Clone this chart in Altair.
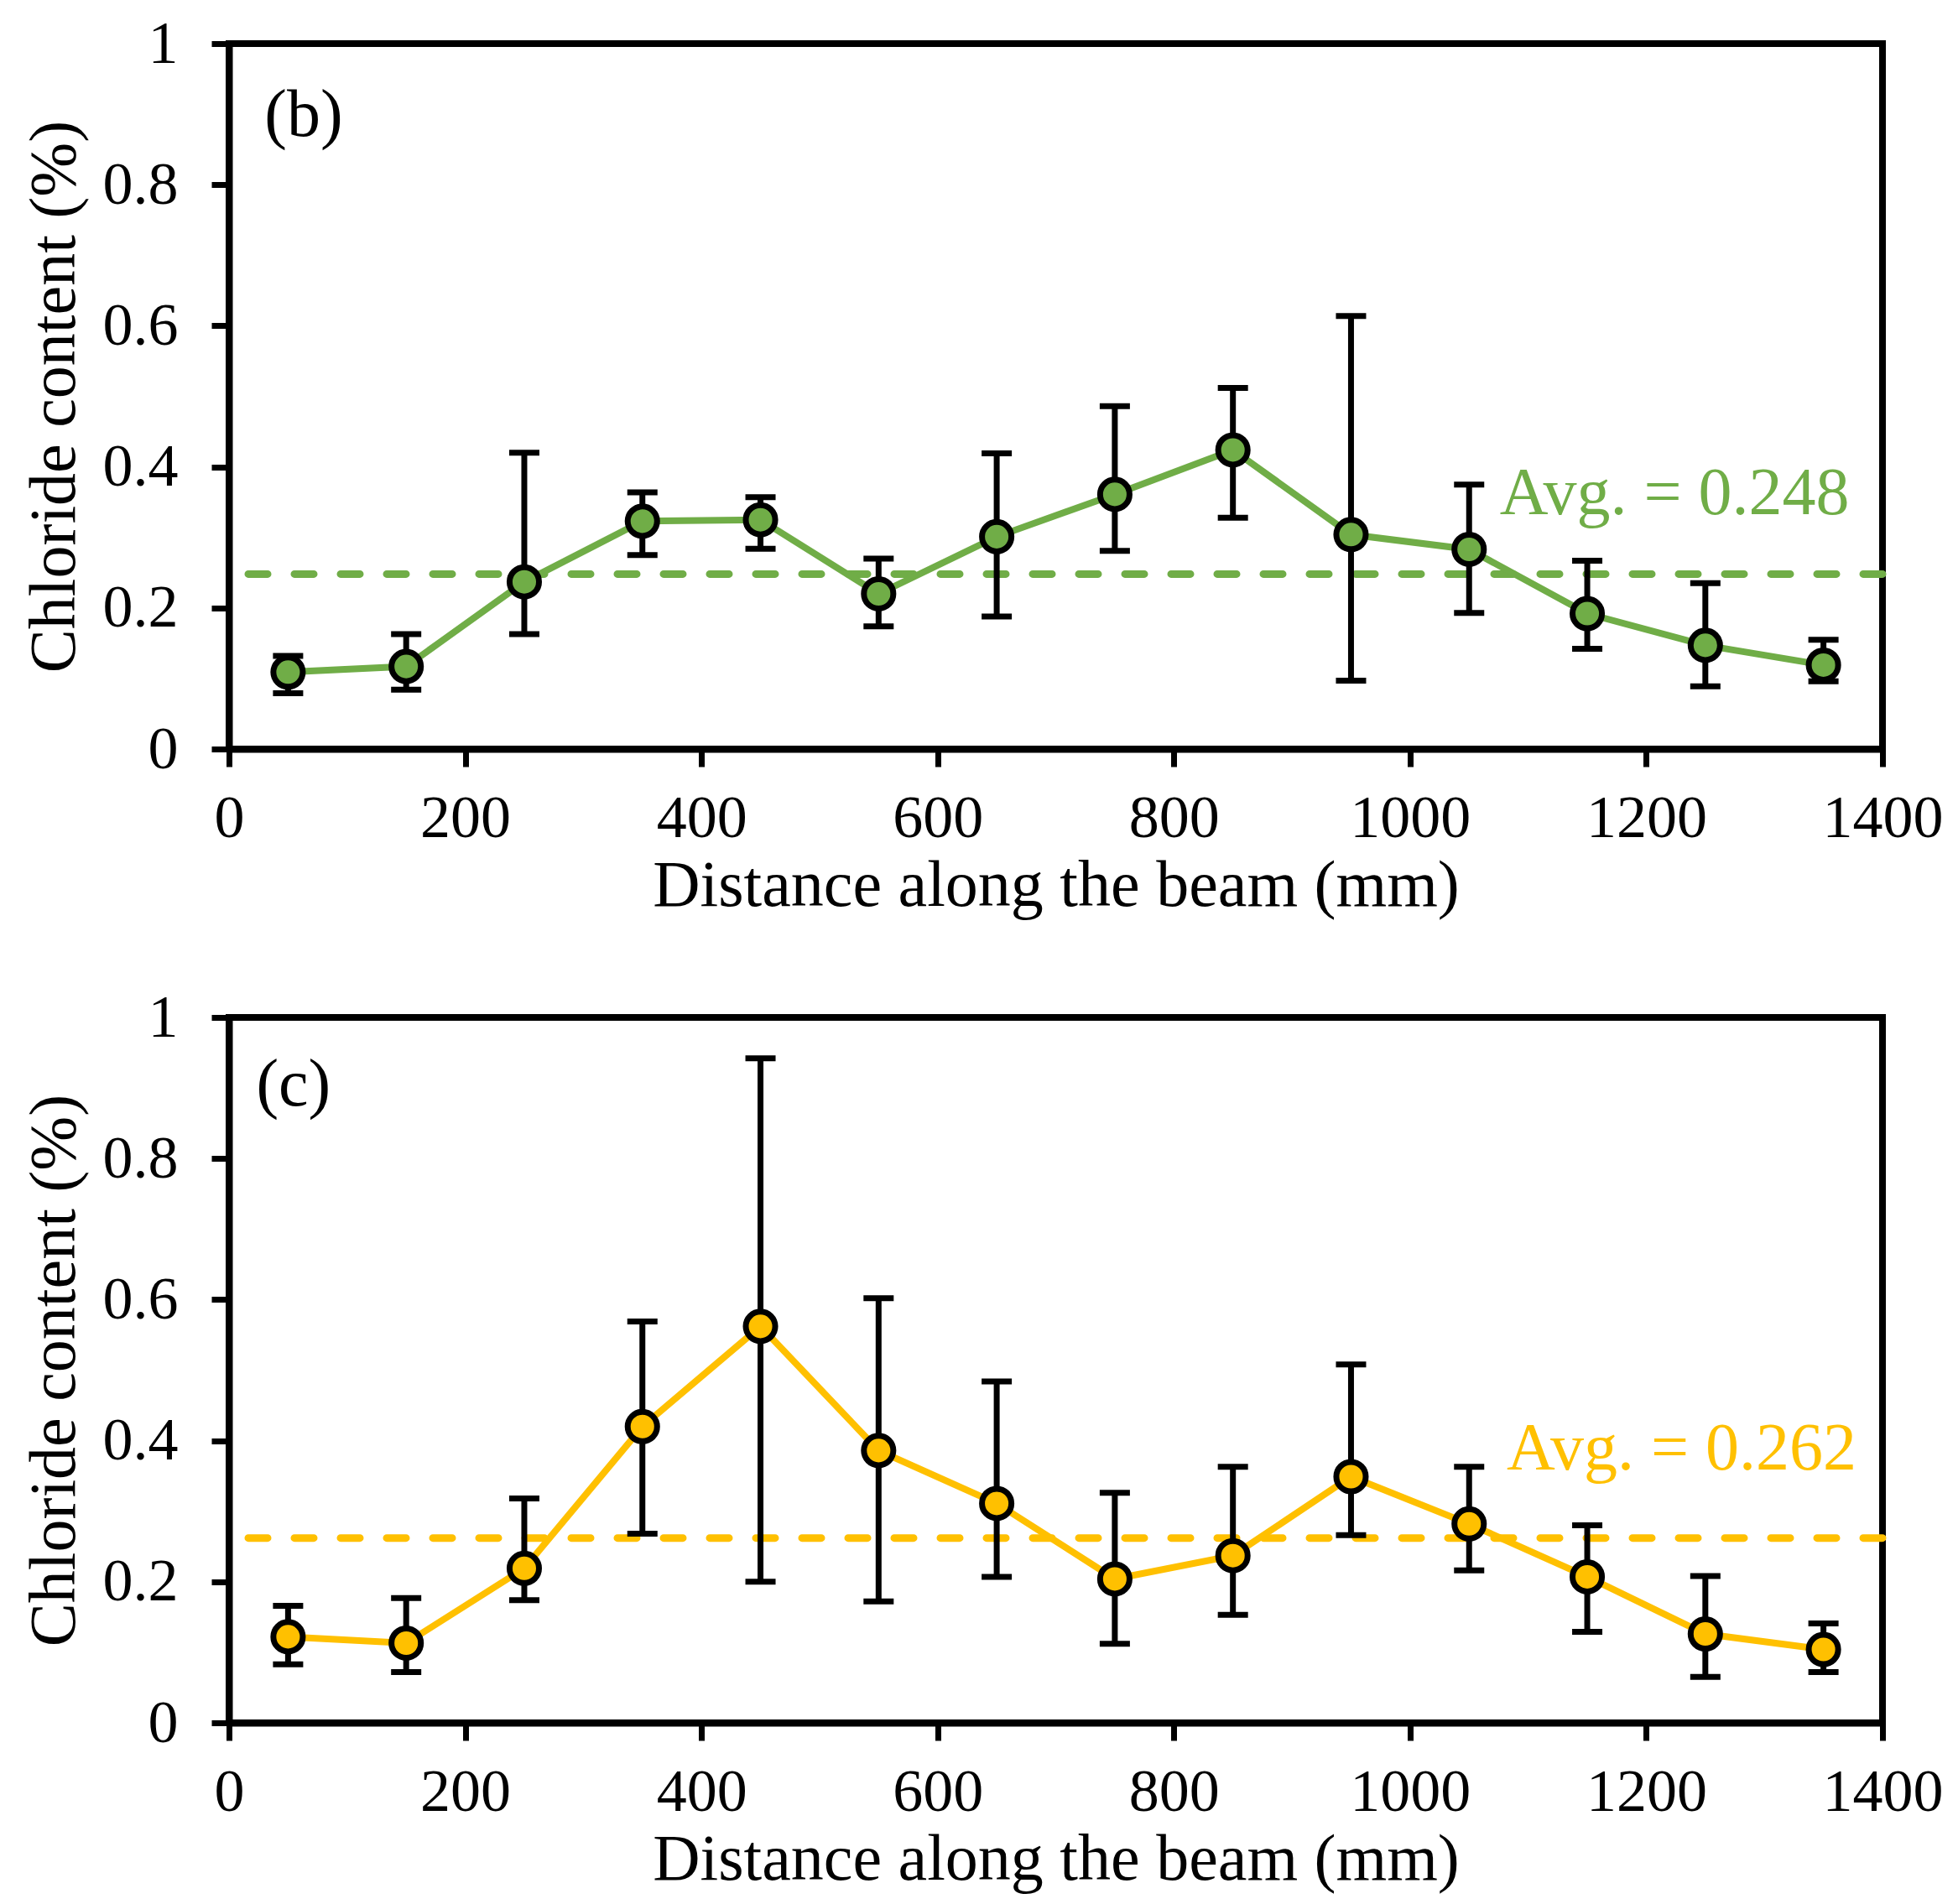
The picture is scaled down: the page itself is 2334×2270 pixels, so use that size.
import altair as alt
import pandas as pd

# ---------------- data ----------------
x_mm = [50, 150, 250, 350, 450, 550, 650, 750, 850, 950, 1050, 1150, 1250, 1350]

b_mean = [0.109, 0.117, 0.237, 0.323, 0.325, 0.220, 0.301, 0.361, 0.424, 0.304, 0.283, 0.192, 0.147, 0.119]
b_hi = [0.132, 0.163, 0.420, 0.364, 0.357, 0.270, 0.419, 0.486, 0.512, 0.614, 0.375, 0.267, 0.235, 0.155]
b_lo = [0.079, 0.084, 0.163, 0.275, 0.284, 0.174, 0.188, 0.281, 0.328, 0.097, 0.193, 0.142, 0.089, 0.096]
b_avg = 0.248

c_mean = [0.122, 0.113, 0.219, 0.420, 0.562, 0.386, 0.311, 0.204, 0.237, 0.349, 0.282, 0.207, 0.126, 0.104]
c_hi = [0.166, 0.177, 0.318, 0.569, 0.942, 0.602, 0.484, 0.326, 0.363, 0.508, 0.363, 0.280, 0.208, 0.141]
c_lo = [0.083, 0.072, 0.174, 0.268, 0.200, 0.172, 0.207, 0.112, 0.153, 0.266, 0.216, 0.129, 0.065, 0.072]
c_avg = 0.262

x_ticks = [0, 200, 400, 600, 800, 1000, 1200, 1400]
y_ticks = [0, 0.2, 0.4, 0.6, 0.8, 1]

GREEN = "#70AD47"
GOLD = "#FFC000"
FONT = "Liberation Serif"

X_TITLE = "Distance along the beam (mm)"
Y_TITLE = "Chloride content (%)"


def panel(mean, lo, hi, avg, color, tag, tag_pos, avg_pos):
    df = pd.DataFrame({"x": x_mm, "m": mean, "lo": lo, "hi": hi})
    xs = alt.Scale(domain=[0, 1400], nice=False, zero=False)
    ys = alt.Scale(domain=[0, 1], nice=False)
    xax = alt.Axis(values=x_ticks, format="d", title=X_TITLE, labelFlush=False)
    yax = alt.Axis(values=y_ticks, format="~g", title=Y_TITLE, labelFlush=False)

    def X(f):
        return alt.X(f, type="quantitative", scale=xs, axis=xax, title=X_TITLE)

    def Y(f):
        return alt.Y(f, type="quantitative", scale=ys, axis=yax, title=Y_TITLE)

    avg_df = pd.DataFrame({"v": [avg]})
    avg_rule = alt.Chart(avg_df).mark_rule(
        color=color, strokeWidth=9, strokeDash=[23, 32], strokeCap="round"
    ).encode(y=Y("v"))

    line = alt.Chart(df).mark_line(color=color, strokeWidth=8).encode(x=X("x"), y=Y("m"))

    err = alt.Chart(df).mark_rule(color="black", strokeWidth=7).encode(
        x=X("x"), y=Y("lo"), y2="hi"
    )
    cap_hi = alt.Chart(df).mark_tick(
        orient="horizontal", color="black", size=36, thickness=7, opacity=1
    ).encode(x=X("x"), y=Y("hi"))
    cap_lo = alt.Chart(df).mark_tick(
        orient="horizontal", color="black", size=36, thickness=7, opacity=1
    ).encode(x=X("x"), y=Y("lo"))

    pts = alt.Chart(df).mark_circle(
        size=1230, color=color, stroke="black", strokeWidth=7, opacity=1
    ).encode(x=X("x"), y=Y("m"))

    tag_df = pd.DataFrame({"x": [tag_pos[0]], "y": [tag_pos[1]], "t": [tag]})
    tag_txt = alt.Chart(tag_df).mark_text(
        align="left", baseline="alphabetic", font=FONT, fontSize=80, color="black"
    ).encode(x=X("x"), y=Y("y"), text="t:N")

    avg_df2 = pd.DataFrame({"x": [avg_pos[0]], "y": [avg_pos[1]], "t": ["Avg. = %.3f" % avg]})
    avg_txt = alt.Chart(avg_df2).mark_text(
        align="right", baseline="alphabetic", font=FONT, fontSize=80, color=color
    ).encode(x=X("x"), y=Y("y"), text="t:N")

    return alt.layer(avg_rule, line, err, cap_hi, cap_lo, pts, tag_txt, avg_txt).properties(
        width=1971, height=841
    )


top = panel(b_mean, b_lo, b_hi, b_avg, GREEN, "(b)", (30, 0.869), (1372, 0.333))
bottom = panel(c_mean, c_lo, c_hi, c_avg, GOLD, "(c)", (23, 0.875), (1378, 0.359))

chart = alt.vconcat(top, bottom, spacing=74).properties(
    padding={"left": 14, "top": 4, "right": 5, "bottom": 5},
    background="white",
).configure_axis(
    domainColor="black",
    domainWidth=8,
    tickColor="black",
    tickWidth=7,
    tickSize=21,
    grid=False,
    labelFont=FONT,
    labelFontSize=72,
    labelColor="black",
    titleFont=FONT,
    titleFontSize=78,
    titleColor="black",
    titleFontWeight="normal",
).configure_axisY(
    labelPadding=40, titlePadding=18
).configure_axisX(
    labelPadding=26, titlePadding=6
).configure_view(
    stroke="black", strokeWidth=8
)

chart.save("out.html", embed_options={"renderer": "svg", "actions": False})
